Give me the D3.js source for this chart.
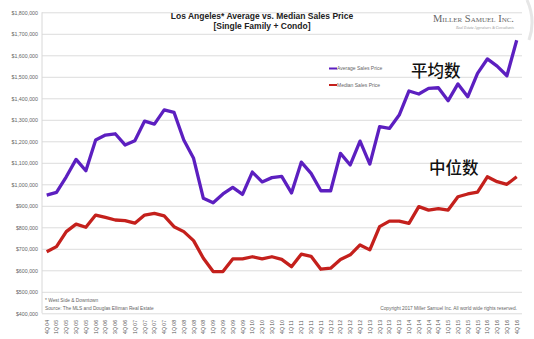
<!DOCTYPE html>
<html>
<head>
<meta charset="utf-8">
<script src="https://cdn.jsdelivr.net/npm/d3@7"></script>
<style>
  body { margin: 0; background: #fff; }
  svg { display: block; font-family: "Liberation Sans", Arial, sans-serif; }
</style>
</head>
<body>
<div id="chart"></div>
<script>
// quarters 4Q 04 .. 4Q 16
const quarters = [];
quarters.push('4Q 04');
for (let y = 5; y <= 16; y++) {
  for (let q = 1; q <= 4; q++) quarters.push(q + 'Q ' + String(y).padStart(2, '0'));
}

// values in dollars
const averagePrice = [950, 962, 1035, 1116, 1063, 1206, 1229, 1235, 1183, 1203,
  1294, 1280, 1346, 1335, 1206, 1121, 935, 914, 955, 986,
  953, 1057, 1011, 1031, 1037, 960, 1103, 1051, 970, 970,
  1144, 1090, 1201, 1094, 1268, 1260, 1322, 1434, 1420, 1446,
  1449, 1389, 1467, 1407, 1516, 1583, 1550, 1505, 1670].map(d => d * 1000);

const medianPrice = [686, 710, 780, 815, 800, 857, 846, 834, 831, 819,
  857, 865, 853, 803, 780, 738, 656, 594, 594, 653,
  653, 663, 653, 663, 651, 617, 675, 665, 605, 610,
  650, 672, 718, 695, 803, 829, 829, 818, 896, 880,
  887, 880, 942, 955, 964, 1035, 1012, 1000, 1035].map(d => d * 1000);

const yTicks = d3.range(400000, 1800001, 100000);

const width = 534, height = 339;
const plot = { left: 42, right: 522, top: 12.3, bottom: 313.3 };

const svg = d3.select('#chart').append('svg')
  .attr('width', width).attr('height', height);

const xScale = d3.scalePoint().domain(quarters).range([46.7, 516.7]);
const yScale = d3.scaleLinear().domain([400000, 1800000]).range([plot.bottom, plot.top]);

// gridlines
svg.append('g')
  .attr('transform', `translate(${plot.left},0)`)
  .call(d3.axisLeft(yScale).tickValues(yTicks).tickFormat('').tickSize(-(plot.right - plot.left)))
  .call(g => g.select('.domain').remove())
  .call(g => g.selectAll('line').attr('stroke', '#dcdcdc').attr('stroke-width', 1));

// y axis line
svg.append('line')
  .attr('x1', plot.left).attr('x2', plot.left)
  .attr('y1', plot.top).attr('y2', plot.bottom)
  .attr('stroke', '#d8d8d8');

// y labels
svg.append('g')
  .attr('transform', `translate(${plot.left},0)`)
  .call(d3.axisLeft(yScale).tickValues(yTicks).tickSize(0).tickPadding(4)
    .tickFormat(d => '$' + d3.format(',')(d)))
  .call(g => g.select('.domain').remove())
  .call(g => g.selectAll('text').attr('font-size', 5.3).attr('fill', '#666'));

// x labels (rotated)
svg.append('g').selectAll('text')
  .data(quarters)
  .join('text')
  .attr('transform', d => `translate(${xScale(d) + 2},334) rotate(-90)`)
  .attr('font-size', 5.2)
  .attr('fill', '#555')
  .text(d => d);

// lines
const line = d3.line().x((d, i) => xScale(quarters[i])).y(d => yScale(d));
svg.append('path').datum(medianPrice)
  .attr('d', line).attr('fill', 'none')
  .attr('stroke', '#c4201c').attr('stroke-width', 3.3).attr('stroke-linejoin', 'round');
svg.append('path').datum(averagePrice)
  .attr('d', line).attr('fill', 'none')
  .attr('stroke', '#5c1fc0').attr('stroke-width', 3.3).attr('stroke-linejoin', 'round');

// title
svg.append('text').attr('x', 262).attr('y', 19).attr('text-anchor', 'middle')
  .attr('font-size', 8.5).attr('font-weight', 'bold').attr('fill', '#222')
  .text('Los Angeles* Average vs. Median Sales Price');
svg.append('text').attr('x', 262).attr('y', 29).attr('text-anchor', 'middle')
  .attr('font-size', 8.5).attr('font-weight', 'bold').attr('fill', '#222')
  .text('[Single Family + Condo]');

// logo
svg.append('text').attr('x', 514).attr('y', 22).attr('text-anchor', 'end')
  .attr('font-family', '"Liberation Serif", serif').attr('font-size', 10.5)
  .attr('fill', '#666').attr('font-variant', 'small-caps')
  .text('Miller Samuel Inc.');
svg.append('text').attr('x', 514).attr('y', 29).attr('text-anchor', 'end')
  .attr('font-family', '"Liberation Serif", serif').attr('font-size', 3.8)
  .attr('font-style', 'italic').attr('fill', '#999')
  .text('Real Estate Appraisers & Consultants');
svg.append('path')
  .attr('d', 'M527,0 Q536,20 529,40')
  .attr('fill', 'none').attr('stroke', '#e6e6e6').attr('stroke-width', 3);

// legend
const legend = [
  { name: 'Average Sales Price', color: '#5c1fc0', y: 68.5 },
  { name: 'Median Sales Price', color: '#c4201c', y: 85 }
];
const lg = svg.append('g').selectAll('g').data(legend).join('g');
lg.append('line')
  .attr('x1', 329).attr('x2', 337).attr('y1', d => d.y).attr('y2', d => d.y)
  .attr('stroke', d => d.color).attr('stroke-width', 2);
lg.append('text')
  .attr('x', 337).attr('y', d => d.y + 1.8)
  .attr('font-size', 5).attr('fill', '#666')
  .text(d => d.name);

// chinese annotations
svg.append('text').attr('x', 411).attr('y', 77)
  .attr('font-family', '"Noto Sans CJK SC", sans-serif').attr('font-size', 16.5)
  .attr('font-weight', 500).attr('fill', '#111')
  .text('平均数');
svg.append('text').attr('x', 429).attr('y', 174)
  .attr('font-family', '"Noto Sans CJK SC", sans-serif').attr('font-size', 16.5)
  .attr('font-weight', 500).attr('fill', '#111')
  .text('中位数');

// footnotes
svg.append('text').attr('x', 45).attr('y', 302)
  .attr('font-size', 4.8).attr('fill', '#666').text('* West Side & Downtown');
svg.append('text').attr('x', 45).attr('y', 309.5)
  .attr('font-size', 4.8).attr('fill', '#666').text('Source: The MLS and Douglas Elliman Real Estate');
svg.append('text').attr('x', 517).attr('y', 309.5).attr('text-anchor', 'end')
  .attr('font-size', 4.8).attr('fill', '#666').text('Copyright 2017 Miller Samuel Inc.  All world wide rights reserved.');
</script>
</body>
</html>
